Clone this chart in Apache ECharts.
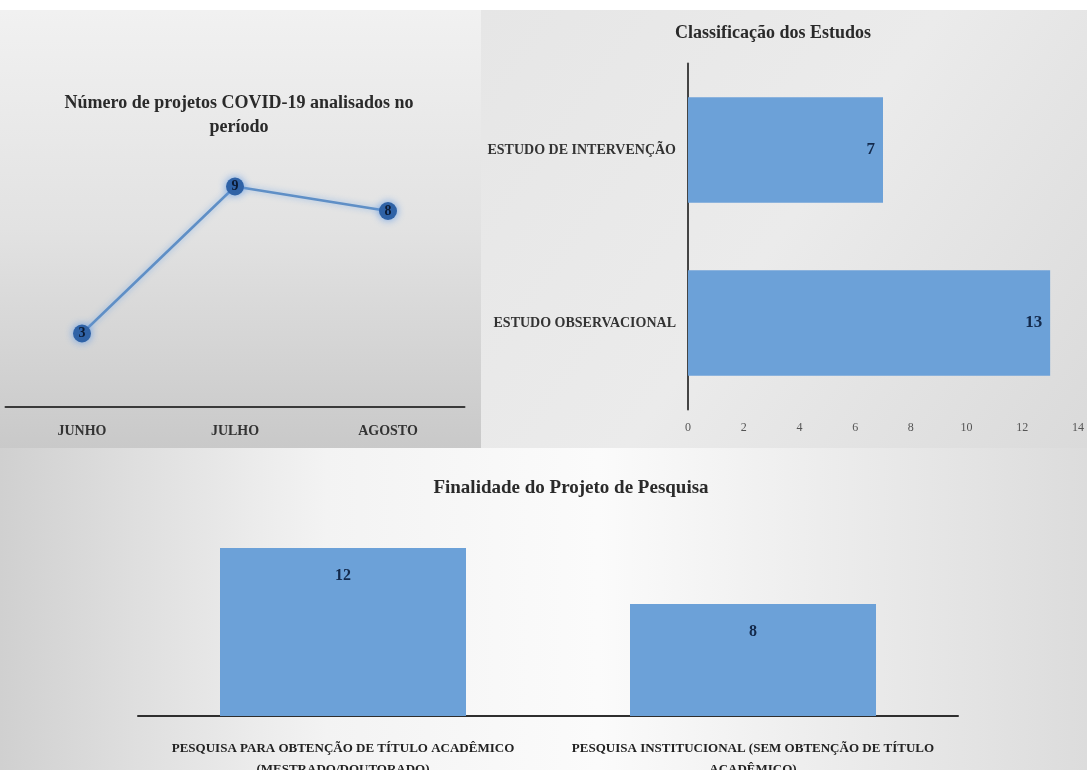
<!DOCTYPE html>
<html>
<head>
<meta charset="utf-8">
<script src="https://cdn.jsdelivr.net/npm/echarts@6/dist/echarts.min.js"></script>
<style>
  html, body { margin: 0; padding: 0; background: #ffffff; }
  #chart { width: 1087px; height: 770px; }
</style>
</head>
<body>
<div id="chart"></div>
<script>
// Projects analysed per month
const months = ['JUNHO', 'JULHO', 'AGOSTO'];
const projectsPerMonth = [3, 9, 8];

// Study classification
const studyTypes = ['ESTUDO DE INTERVENÇÃO', 'ESTUDO OBSERVACIONAL'];
const studyCounts = [7, 13];

// Purpose of the research project
const purposes = [
  'PESQUISA PARA OBTENÇÃO DE TÍTULO ACADÊMICO\n(MESTRADO/DOUTORADO)',
  'PESQUISA INSTITUCIONAL (SEM OBTENÇÃO DE TÍTULO\nACADÊMICO)'
];
const purposeCounts = [12, 8];

const serif = "'Liberation Serif', 'DejaVu Serif', serif";
const barBlue = '#6ca1d8';
const navy = '#13294b';

const chart = echarts.init(document.getElementById('chart'));

chart.setOption({
  backgroundColor: '#ffffff',
  animation: false,
  graphic: [
    { type: 'rect', silent: true, z: -10,
      shape: { x: 0, y: 10, width: 481, height: 438 },
      style: { fill: new echarts.graphic.LinearGradient(0, 0, 0, 1, [
        { offset: 0, color: '#f1f1f1' },
        { offset: 0.5, color: '#e2e2e2' },
        { offset: 1, color: '#c9c9c9' }
      ]) } },
    { type: 'rect', silent: true, z: -10,
      shape: { x: 481, y: 10, width: 606, height: 438 },
      style: { fill: new echarts.graphic.LinearGradient(0, 0, 1, 1, [
        { offset: 0, color: '#e6e6e6' },
        { offset: 0.5, color: '#ebebeb' },
        { offset: 1, color: '#dadada' }
      ]) } },
    { type: 'rect', silent: true, z: -10,
      shape: { x: 0, y: 448, width: 1087, height: 322 },
      style: { fill: new echarts.graphic.LinearGradient(0, 0, 1, 0, [
        { offset: 0, color: '#d0d0d0' },
        { offset: 0.3, color: '#f3f3f3' },
        { offset: 0.55, color: '#fbfbfb' },
        { offset: 1, color: '#dcdcdc' }
      ]) } }
  ],
  title: [
    { text: 'Número de projetos COVID-19 analisados no\nperíodo',
      left: 234, top: 86, textAlign: 'center',
      textStyle: { fontFamily: serif, fontSize: 18, fontWeight: 'bold', color: '#2a2a2a', lineHeight: 24 } },
    { text: 'Classificação dos Estudos',
      left: 768, top: 19, textAlign: 'center',
      textStyle: { fontFamily: serif, fontSize: 18, fontWeight: 'bold', color: '#2a2a2a' } },
    { text: 'Finalidade do Projeto de Pesquisa',
      left: 566, top: 474, textAlign: 'center',
      textStyle: { fontFamily: serif, fontSize: 19, fontWeight: 'bold', color: '#2a2a2a' } }
  ],
  grid: [
    { left: 5.5, top: 113, width: 459, height: 294, outerBoundsMode: 'none', containLabel: false },
    { left: 688, top: 63.5, width: 390, height: 346, outerBoundsMode: 'none', containLabel: false },
    { left: 138, top: 520, width: 820, height: 196, outerBoundsMode: 'none', containLabel: false }
  ],
  xAxis: [
    { gridIndex: 0, type: 'category', data: months, boundaryGap: true,
      axisLine: { lineStyle: { color: '#3a3a3a', width: 2 } },
      axisTick: { show: false },
      axisLabel: { fontFamily: serif, fontSize: 14, fontWeight: 'bold', color: '#333', margin: 17 } },
    { gridIndex: 1, type: 'value', min: 0, max: 14, interval: 2,
      axisLine: { show: false }, axisTick: { show: false }, splitLine: { show: false },
      axisLabel: { fontFamily: serif, fontSize: 12, color: '#555', margin: 12 } },
    { gridIndex: 2, type: 'category', data: purposes,
      axisLine: { lineStyle: { color: '#2e2e2e', width: 2 } },
      axisTick: { show: false },
      axisLabel: { fontFamily: serif, fontSize: 13, fontWeight: 'bold', color: '#222', margin: 22, lineHeight: 21, interval: 0 } }
  ],
  yAxis: [
    { gridIndex: 0, type: 'value', min: 0, max: 12, show: false },
    { gridIndex: 1, type: 'category', data: studyTypes, inverse: true,
      axisLine: { lineStyle: { color: '#444', width: 2 } },
      axisTick: { show: false },
      axisLabel: { fontFamily: serif, fontSize: 14, fontWeight: 'bold', color: '#333', margin: 12 } },
    { gridIndex: 2, type: 'value', min: 0, max: 14, show: false }
  ],
  series: [
    { type: 'line', xAxisIndex: 0, yAxisIndex: 0, data: projectsPerMonth,
      symbol: 'circle', symbolSize: 18,
      lineStyle: { color: '#5f8fc6', width: 2.5, shadowColor: 'rgba(120,170,230,0.8)', shadowBlur: 6 },
      itemStyle: { color: '#2f62a6', shadowColor: 'rgba(90,150,230,0.9)', shadowBlur: 8 },
      label: { show: true, position: 'inside', fontFamily: serif, fontWeight: 'bold', fontSize: 14, color: '#0b1a33' } },
    { type: 'bar', xAxisIndex: 1, yAxisIndex: 1, data: studyCounts,
      barCategoryGap: '39%',
      itemStyle: { color: barBlue },
      label: { show: true, position: 'insideRight', distance: 8, fontFamily: serif, fontWeight: 'bold', fontSize: 17, color: navy } },
    { type: 'bar', xAxisIndex: 2, yAxisIndex: 2, data: purposeCounts,
      barCategoryGap: '40%',
      itemStyle: { color: barBlue },
      label: { show: true, position: 'insideTop', distance: 20, fontFamily: serif, fontWeight: 'bold', fontSize: 16, color: navy } }
  ]
});
</script>
</body>
</html>
